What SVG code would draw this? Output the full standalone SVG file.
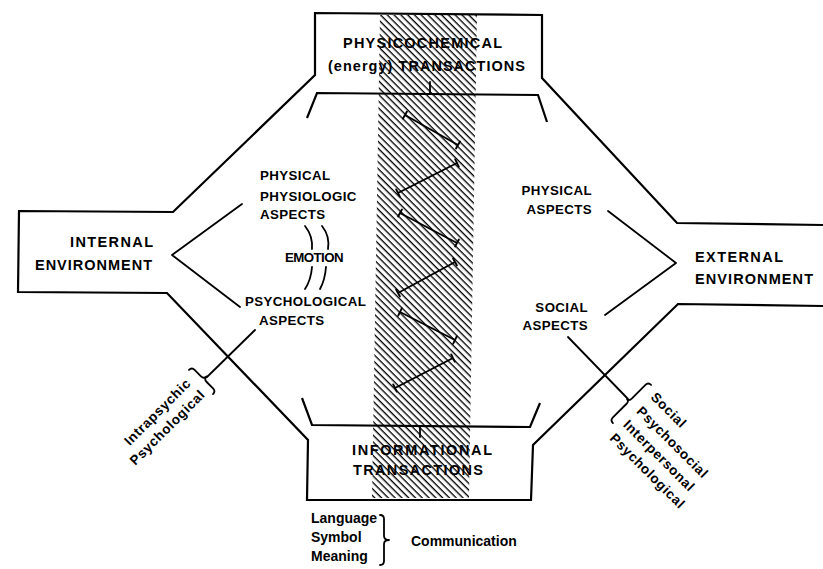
<svg xmlns="http://www.w3.org/2000/svg" width="823" height="569" viewBox="0 0 823 569">
<style>
.edge{fill:none;stroke:#000;stroke-width:2.2;stroke-linejoin:miter}
.ln{fill:none;stroke:#000;stroke-width:1.8;stroke-linecap:round;stroke-linejoin:round}
.zz{fill:none;stroke:#000;stroke-width:1.9;stroke-linecap:round}
text{font-family:"Liberation Sans",Arial,sans-serif;font-weight:bold;fill:#000}
.big{font-size:14.5px}
.mid{font-size:13.3px;letter-spacing:0.4px}
.low{font-size:14px}
.rot{font-size:13.5px;letter-spacing:0.7px}
</style>
<defs>
<pattern id="hatch" patternUnits="userSpaceOnUse" width="4.8" height="4.8" patternTransform="rotate(45)">
<rect x="0" y="0" width="4.8" height="1.35" fill="#000"/>
</pattern>
</defs>
<rect width="823" height="569" fill="#fff"/>

<g id="hatched-band">
<polygon points="380,15 477,15 469,498 372,498" fill="url(#hatch)"/>
</g>

<g id="frame">
<path class="edge" d="M823,225 L677,223 L542,78 L542,15 L315,13 L315,75 L173,212 L19,211 L18,292 L167,293 L308,440 L307,500 L531,500 L533,445 L678,304 L823,306"/>
<path class="edge" d="M307,118 L317,93 L538,95 L547,122"/>
<path class="edge" d="M302,398 L312,425 L530,427 L540,403"/>
<path class="ln" d="M430,82 L430,93"/>
<path class="ln" d="M420,427 L420,437"/>
</g>

<g id="physicochemical-transactions">
<text class="big" x="343" y="48" textLength="159" lengthAdjust="spacing">PHYSICOCHEMICAL</text>
<text class="big" x="328" y="71" textLength="197" lengthAdjust="spacing">(energy)  TRANSACTIONS</text>
</g>

<g id="informational-transactions">
<text class="big" x="352" y="455" textLength="140" lengthAdjust="spacing">INFORMATIONAL</text>
<text class="big" x="353" y="475" textLength="130" lengthAdjust="spacing">TRANSACTIONS</text>
</g>

<g id="internal-environment">
<text class="big" x="70" y="247" textLength="83" lengthAdjust="spacing">INTERNAL</text>
<text class="big" x="35" y="270" textLength="117" lengthAdjust="spacing">ENVIRONMENT</text>
</g>

<g id="external-environment">
<text class="big" x="695" y="262" textLength="88" lengthAdjust="spacing">EXTERNAL</text>
<text class="big" x="695" y="284" textLength="118" lengthAdjust="spacing">ENVIRONMENT</text>
</g>

<g id="physical-physiologic-aspects">
<text class="mid" x="260" y="180">PHYSICAL</text>
<text class="mid" x="260" y="201">PHYSIOLOGIC</text>
<text class="mid" x="260" y="219">ASPECTS</text>
</g>

<g id="emotion">
<text class="mid" x="285" y="262" textLength="59" lengthAdjust="spacing">EMOTION</text>
</g>

<g id="psychological-aspects">
<text class="mid" x="245" y="306">PSYCHOLOGICAL</text>
<text class="mid" x="259" y="325">ASPECTS</text>
</g>

<g id="physical-aspects">
<text class="mid" x="592" y="195" text-anchor="end">PHYSICAL</text>
<text class="mid" x="592" y="214" text-anchor="end">ASPECTS</text>
</g>

<g id="social-aspects">
<text class="mid" x="588" y="312" text-anchor="end">SOCIAL</text>
<text class="mid" x="588" y="330" text-anchor="end">ASPECTS</text>
</g>

<g id="intrapsychic-psychological">
<g transform="translate(201,382) rotate(-45)">
<text class="rot" x="-8" y="-5" text-anchor="end">Intrapsychic</text>
<text class="rot" x="-6" y="13" text-anchor="end">Psychological</text>
</g>
</g>

<g id="social-psychosocial-interpersonal-psychological">
<g transform="translate(633,405) rotate(45)">
<text class="rot" x="7" y="-17">Social</text>
<text class="rot" x="7" y="3">Psychosocial</text>
<text class="rot" x="7" y="22">Interpersonal</text>
<text class="rot" x="7" y="41">Psychological</text>
</g>
</g>

<g id="communication">
<text class="low" x="311" y="523">Language</text>
<text class="low" x="311" y="542">Symbol</text>
<text class="low" x="311" y="561">Meaning</text>
<text class="low" x="411" y="546">Communication</text>
</g>

<g id="connectors">
<path class="ln" d="M242,204 L172,255 L240,307"/>
<path class="ln" d="M608,211 L676,263 L605,315"/>
<path class="ln" d="M305,226 Q313,236 312,249"/>
<path class="ln" d="M322,226 Q330,236 328,249"/>
<path class="ln" d="M312,267 Q311,280 305,289"/>
<path class="ln" d="M326,267 Q325,280 320,289"/>
<path class="ln" d="M255,330 L207,377"/>
<path class="ln" d="M568,337 L628,399"/>
<path class="ln" transform="translate(201,382) rotate(-45)" d="M0,-17 Q4,-17 4,-13 L4,-4 Q4,0 8,0 Q4,0 4,4 L4,13 Q4,17 0,17"/>
<path class="ln" transform="translate(632,404) rotate(-135)" d="M0,-27 Q4,-27 4,-23 L4,-4 Q4,0 7,0 Q4,0 4,4 L4,23 Q4,27 0,27"/>
<path class="ln" transform="translate(383,540)" d="M-3,-25 Q1,-25 1,-21 L1,-4 Q1,0 6,0 Q1,0 1,4 L1,21 Q1,25 -3,25"/>
</g>

<g id="zigzag">
<path class="zz" d="M405,115 L458,145 M407,111.5 L403,118.5 M460,141.5 L456,148.5"/>
<path class="zz" d="M457,163 L398,193 M455.2,159.4 L458.8,166.6 M396.2,189.4 L399.8,196.6"/>
<path class="zz" d="M400,213 L457,243 M401.9,209.5 L398.1,216.5 M458.9,239.5 L455.1,246.5"/>
<path class="zz" d="M455,262 L398,293 M453.1,258.5 L456.9,265.5 M396.1,289.5 L399.9,296.5"/>
<path class="zz" d="M400,312 L455,340 M401.8,308.4 L398.2,315.6 M456.8,336.4 L453.2,343.6"/>
<path class="zz" d="M453,358 L395,388 M451.2,354.4 L454.8,361.6 M393.2,384.4 L396.8,391.6"/>
</g>
</svg>
